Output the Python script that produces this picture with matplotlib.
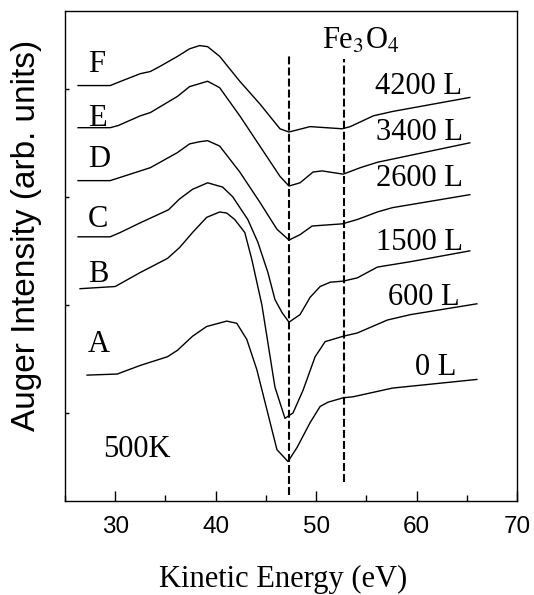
import numpy as np
import matplotlib
matplotlib.use("Agg")
import matplotlib.pyplot as plt
from matplotlib.ticker import MultipleLocator

plt.rcParams['mathtext.fontset'] = 'stix'

# Auger spectra at 500K for increasing O2 exposure, offset vertically
eV_F = [26.3, 29.5, 30.3, 32.5, 33.5, 34.5, 36.2, 37.4, 38.4, 39.2, 40.4, 42.4, 44.4, 46.4, 47.3, 49.4, 52.6, 53.4, 55.7, 57.6, 65.3]
I_F = [3.03, 3.03, 3.06, 3.14, 3.16, 3.21, 3.30, 3.37, 3.40, 3.39, 3.30, 3.07, 2.86, 2.63, 2.60, 2.65, 2.63, 2.65, 2.75, 2.79, 2.92]

eV_E = [26.3, 29.5, 30.3, 32.5, 33.5, 36.2, 37.4, 39.2, 40.4, 42.4, 44.4, 46.4, 47.3, 48.4, 49.7, 50.6, 52.7, 54.4, 56.1, 65.3]
I_E = [2.64, 2.64, 2.66, 2.75, 2.78, 2.93, 3.02, 3.07, 3.01, 2.75, 2.47, 2.19, 2.10, 2.13, 2.23, 2.24, 2.21, 2.27, 2.32, 2.50]

eV_D = [26.3, 29.5, 32.5, 33.5, 36.2, 37.4, 38.4, 39.2, 40.4, 42.4, 44.4, 46.1, 47.3, 48.4, 49.6, 52.6, 54.1, 56.1, 57.6, 65.3]
I_D = [2.15, 2.15, 2.24, 2.27, 2.41, 2.49, 2.51, 2.52, 2.47, 2.23, 1.95, 1.70, 1.60, 1.65, 1.73, 1.75, 1.79, 1.86, 1.90, 2.02]

eV_C = [26.3, 29.5, 30.5, 32.5, 35.3, 36.4, 37.7, 39.2, 40.7, 41.7, 43.2, 44.2, 45.2, 45.9, 46.6, 47.3, 48.4, 49.4, 50.4, 51.4, 52.7, 54.1, 56.1, 59.4, 65.3]
I_C = [1.63, 1.63, 1.67, 1.76, 1.88, 1.98, 2.07, 2.13, 2.09, 2.00, 1.79, 1.58, 1.30, 1.05, 0.93, 0.84, 0.91, 1.07, 1.17, 1.21, 1.22, 1.25, 1.35, 1.40, 1.50]

eV_B = [26.5, 30.0, 32.5, 35.2, 36.4, 37.7, 39.1, 40.4, 41.1, 41.9, 42.9, 43.6, 44.6, 45.9, 46.9, 47.7, 48.7, 49.9, 50.9, 52.7, 54.1, 57.1, 59.4, 66.0]
I_B = [1.15, 1.17, 1.30, 1.43, 1.53, 1.67, 1.81, 1.86, 1.85, 1.79, 1.67, 1.42, 1.00, 0.24, -0.05, 0.00, 0.21, 0.52, 0.66, 0.71, 0.74, 0.86, 0.91, 1.01]

eV_A = [27.2, 30.2, 32.5, 35.2, 36.2, 37.7, 39.1, 41.1, 42.1, 43.1, 44.1, 45.1, 46.1, 47.2, 48.1, 49.4, 50.4, 51.2, 52.7, 53.7, 57.6, 66.0]
I_A = [0.35, 0.36, 0.44, 0.52, 0.58, 0.71, 0.80, 0.85, 0.83, 0.68, 0.40, 0.03, -0.34, -0.45, -0.32, -0.09, 0.06, 0.10, 0.14, 0.15, 0.23, 0.31]

curves = [(eV_F, I_F), (eV_E, I_E), (eV_D, I_D), (eV_C, I_C), (eV_B, I_B), (eV_A, I_A)]

letters = ['F', 'E', 'D', 'C', 'B', 'A']
letter_y = [3.16, 2.66, 2.28, 1.72, 1.21, 0.56]
exposures = ['4200 L', '3400 L', '2600 L', '1500 L', '600 L', '0 L']
exposure_x = [64.5, 64.6, 64.6, 64.6, 64.3, 64.0]
exposure_y = [2.95, 2.53, 2.10, 1.51, 1.00, 0.35]

# reference energies
ref_eV = [47.3, 52.8]
ref_top = [3.30, 3.28]
ref_bottom = [-0.76, -0.64]

serif = 'Liberation Serif'
sans = 'Liberation Sans'

fig = plt.figure(figsize=(5.34, 5.95), dpi=100)
ax = fig.add_axes([0.1217, 0.158, 0.8465, 0.8235])

for x, y in curves:
    ax.plot(x, y, color='black', lw=1.0)

for x, y0, y1 in zip(ref_eV, ref_bottom, ref_top):
    ax.plot([x, x], [y0, y1], color='black', lw=1.5, dashes=(3.8, 1.5))

for lab, y in zip(letters, letter_y):
    ax.text(27.3, y, lab, family=serif, fontsize=22, ha='left', va='baseline')
for lab, x, y in zip(exposures, exposure_x, exposure_y):
    ax.text(x, y, lab, family=serif, fontsize=22, ha='right', va='baseline')

ax.text(28.8, -0.41, '500K', family=serif, fontsize=22, ha='left', va='baseline')
ax.text(50.6, 3.37, 'Fe$_3$O$_4$', family=serif, fontsize=22, ha='left', va='baseline')

ax.set_xlim(25, 70)
ax.set_ylim(-0.815, 3.72)
ax.xaxis.set_major_locator(MultipleLocator(10))
ax.xaxis.set_minor_locator(MultipleLocator(5))
ax.set_yticks([0, 1, 2, 3])
ax.set_yticklabels([])
ax.tick_params(axis='x', which='major', direction='in', length=7, width=1, pad=10.5, labelsize=17.5)
ax.tick_params(axis='x', which='minor', direction='in', length=4.3, width=1)
ax.tick_params(axis='y', direction='in', length=3, width=1)
for lab in ax.get_xticklabels():
    lab.set_family(sans)
for s in ax.spines.values():
    s.set_linewidth(1.0)

fig.text(27 / 534, 1 - 235 / 595, 'Auger Intensity (arb. units)', family=sans, fontsize=24,
         rotation=90, ha='center', va='center')
fig.text(283 / 534, 8 / 595, 'Kinetic Energy (eV)', family=serif, fontsize=22, ha='center', va='baseline')

fig.savefig('out.png', dpi=100)
